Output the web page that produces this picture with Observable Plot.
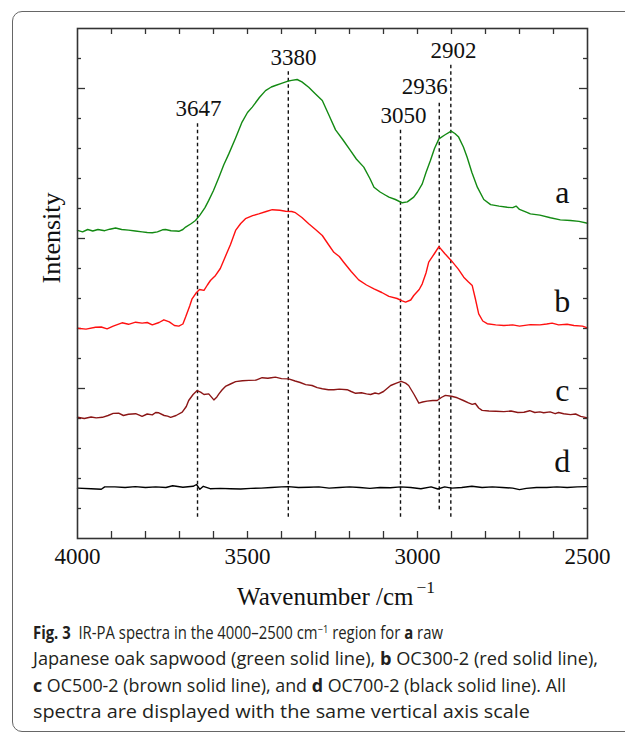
<!DOCTYPE html>
<html>
<head>
<meta charset="utf-8">
<script src="https://cdn.jsdelivr.net/npm/d3@7"></script>
<script src="https://cdn.jsdelivr.net/npm/@observablehq/plot@0.6"></script>
<style>
  html, body { margin: 0; padding: 0; background: #fff; width: 625px; height: 734px; overflow: hidden; }
  #box { position: absolute; left: 12px; top: 11px; width: 720px; height: 721px; border: 1px solid #666; border-radius: 10px; box-sizing: border-box; }
  #chart { position: absolute; left: 0; top: 0; }
  #caption { position: absolute; left: 33px; top: 619px; font-family: "Open Sans", "Noto Sans", sans-serif; font-size: 17.5px; line-height: 26.4px; color: #231f20; white-space: nowrap; }
  #caption .ln { display: inline-block; transform-origin: 0 50%; }
  #caption b { font-weight: 700; }
  #caption sup { font-size: 11px; line-height: 0; vertical-align: 6px; }
</style>
</head>
<body>
<div id="box"></div>
<div id="chart"></div>
<div id="caption">
<span class="ln"><b>Fig. 3</b>&nbsp; IR-PA spectra in the 4000–2500 cm<sup>−1</sup> region for <b>a</b> raw</span><br>
<span class="ln">Japanese oak sapwood (green solid line), <b>b</b> OC300-2 (red solid line),</span><br>
<span class="ln"><b>c</b> OC500-2 (brown solid line), and <b>d</b> OC700-2 (black solid line). All</span><br>
<span class="ln">spectra are displayed with the same vertical axis scale</span>
</div>
<script>
// ---- data (wavenumber cm^-1, intensity in arbitrary offset units) ----
const spectrumA = [
  [4000,10.27],[3985,10.22],[3970,10.3],[3955,10.25],[3940,10.3],[3920,10.26],[3905,10.31],[3888,10.35],
  [3870,10.3],[3850,10.28],[3830,10.25],[3810,10.22],[3795,10.2],[3780,10.19],[3765,10.22],[3750,10.29],
  [3741,10.3],[3725,10.26],[3710,10.25],[3702,10.24],[3690,10.3],[3682,10.38],[3665,10.5],[3653,10.6],
  [3640,10.78],[3625,11.03],[3614,11.27],[3600,11.6],[3584,12.04],[3570,12.45],[3555,12.82],[3535,13.35],
  [3516,13.88],[3500,14.2],[3486,14.38],[3465,14.7],[3447,14.93],[3430,15.05],[3418,15.1],[3400,15.17],
  [3383,15.24],[3370,15.27],[3354,15.3],[3340,15.22],[3320,15.04],[3300,14.82],[3280,14.6],[3260,14.1],
  [3241,13.62],[3220,13.3],[3197,12.93],[3180,12.65],[3158,12.38],[3140,12.0],[3128,11.71],[3110,11.55],
  [3095,11.45],[3084,11.38],[3065,11.3],[3045,11.19],[3030,11.22],[3011,11.38],[3000,11.55],[2986,11.82],
  [2975,12.2],[2962,12.6],[2950,13.0],[2937,13.32],[2920,13.45],[2901,13.58],[2890,13.5],[2879,13.38],
  [2865,13.05],[2854,12.71],[2840,12.2],[2824,11.71],[2805,11.3],[2785,11.13],[2760,11.08],[2736,11.04],
  [2720,11.03],[2710,11.08],[2700,10.97],[2680,10.88],[2668,10.82],[2640,10.78],[2609,10.69],[2580,10.62],
  [2550,10.6],[2525,10.57],[2500,10.51]
];
const spectrumB = [
  [4000,7.01],[3975,6.98],[3947,7.04],[3930,7.05],[3913,6.99],[3895,7.08],[3869,7.19],[3850,7.14],
  [3829,7.21],[3810,7.18],[3795,7.2],[3780,7.12],[3760,7.2],[3746,7.29],[3730,7.22],[3715,7.1],
  [3702,7.08],[3690,7.15],[3682,7.38],[3670,7.75],[3663,7.99],[3650,8.2],[3641,8.3],[3628,8.27],
  [3618,8.45],[3609,8.6],[3594,8.77],[3580,9.0],[3570,9.27],[3550,9.8],[3535,10.27],[3520,10.5],
  [3506,10.66],[3485,10.76],[3467,10.82],[3445,10.9],[3427,10.96],[3405,10.94],[3388,10.91],[3370,10.9],
  [3359,10.86],[3340,10.7],[3320,10.49],[3300,10.3],[3280,10.1],[3262,9.8],[3246,9.54],[3230,9.4],
  [3217,9.21],[3195,8.9],[3173,8.62],[3150,8.45],[3128,8.32],[3105,8.2],[3084,8.07],[3060,8.0],
  [3045,7.92],[3035,7.88],[3020,7.95],[3011,8.1],[2995,8.3],[2986,8.49],[2975,8.85],[2967,9.21],
  [2950,9.5],[2937,9.73],[2920,9.5],[2901,9.27],[2880,8.98],[2864,8.71],[2850,8.55],[2839,8.43],
  [2830,8.0],[2820,7.49],[2808,7.25],[2795,7.16],[2770,7.12],[2746,7.1],[2720,7.12],[2700,7.08],
  [2668,7.13],[2640,7.12],[2620,7.15],[2604,7.18],[2585,7.12],[2560,7.14],[2540,7.1],[2515,7.08],[2500,7.02]
];
const spectrumC = [
  [4000,4.04],[3980,4.0],[3960,4.05],[3945,4.02],[3927,4.04],[3910,4.1],[3895,4.17],[3879,4.18],
  [3865,4.1],[3850,4.14],[3829,4.16],[3820,4.12],[3810,4.07],[3795,4.15],[3780,4.12],[3770,4.2],
  [3761,4.19],[3745,4.1],[3735,4.08],[3726,4.04],[3710,4.1],[3692,4.21],[3680,4.4],[3673,4.6],
  [3660,4.8],[3648,4.93],[3638,4.88],[3628,4.8],[3614,4.82],[3599,4.62],[3590,4.72],[3584,4.82],
  [3575,4.95],[3565,5.07],[3550,5.15],[3535,5.23],[3515,5.26],[3496,5.27],[3475,5.28],[3457,5.36],
  [3440,5.34],[3430,5.36],[3418,5.38],[3400,5.33],[3379,5.32],[3360,5.25],[3345,5.2],[3329,5.13],
  [3310,5.1],[3295,5.03],[3280,4.99],[3262,4.96],[3246,4.96],[3230,4.98],[3207,4.96],[3195,4.9],
  [3182,4.84],[3165,4.86],[3150,4.82],[3138,4.8],[3125,4.85],[3114,4.82],[3100,4.9],[3079,5.1],
  [3062,5.18],[3048,5.24],[3035,5.18],[3026,5.1],[3010,4.8],[2996,4.51],[2985,4.55],[2972,4.58],
  [2955,4.6],[2942,4.6],[2930,4.7],[2918,4.77],[2900,4.74],[2883,4.69],[2865,4.6],[2850,4.52],
  [2839,4.47],[2830,4.5],[2820,4.35],[2810,4.27],[2790,4.25],[2770,4.24],[2746,4.23],[2725,4.25],
  [2705,4.2],[2687,4.21],[2670,4.26],[2655,4.2],[2640,4.22],[2629,4.19],[2610,4.22],[2595,4.16],
  [2585,4.2],[2570,4.16],[2550,4.13],[2535,4.15],[2520,4.07],[2500,4.02]
];
const spectrumD = [
  [4000,1.68],[3960,1.66],[3930,1.64],[3920,1.72],[3890,1.72],[3860,1.7],[3830,1.73],[3800,1.7],
  [3770,1.72],[3740,1.7],[3720,1.76],[3690,1.71],[3660,1.74],[3650,1.8],[3640,1.64],[3630,1.74],
  [3610,1.66],[3580,1.67],[3550,1.66],[3520,1.65],[3490,1.67],[3460,1.68],[3430,1.7],[3400,1.72],
  [3380,1.73],[3350,1.7],[3320,1.71],[3290,1.72],[3260,1.68],[3230,1.7],[3200,1.72],[3170,1.7],
  [3140,1.67],[3110,1.7],[3080,1.69],[3050,1.72],[3020,1.7],[2990,1.66],[2960,1.72],[2940,1.65],
  [2920,1.72],[2900,1.68],[2870,1.7],[2840,1.74],[2810,1.7],[2780,1.72],[2750,1.7],[2720,1.68],
  [2700,1.63],[2680,1.67],[2650,1.7],[2620,1.7],[2590,1.72],[2560,1.7],[2530,1.72],[2500,1.73]
];
const seriesNames = ["a", "b", "c", "d"];
const seriesColors = ["#138a13", "#ff1010", "#8b1616", "#000000"];
const seriesLabelPos = [[2574, 11.18], [2574, 7.54], [2574, 4.6], [2574, 2.21]];

const peakWn = [3647, 3380, 3050, 2936, 2902];
const peakTop = [13.88, 15.58, 13.62, 14.6, 15.8];
const peakBottom = [0.71, 0.71, 0.71, 0.96, 0.71];
const peakLabelWn = [3644, 3365, 3041, 2979, 2894];

const xTickLabels = [4000, 3500, 3000, 2500];
const xMinorTicks = d3.range(3900, 2550, -100);
const yMinorTicks = [1,2,3,4,6,7,8,9,11,12,13,14,16];
const yMajorTicks = [5, 10, 15];

// caption line widths (px) as measured in the figure
const captionLineWidths = [410, 565, 533, 497];

// ---- build tables ----
const spectra = [spectrumA, spectrumB, spectrumC, spectrumD];
const lines = spectra.flatMap((s, i) => s.map(([wn, v]) => ({wn, v, series: seriesNames[i]})));
const peaks = peakWn.map((wn, i) => ({wn, top: peakTop[i], bottom: peakBottom[i], labelWn: peakLabelWn[i]}));
const seriesLabels = seriesNames.map((name, i) => ({name, wn: seriesLabelPos[i][0], v: seriesLabelPos[i][1]}));

const frameW = 510, frameH = 510;
const axisColor = "#333";
const serif = "'Liberation Serif', 'Times New Roman', serif";
const txt = {fontFamily: serif, fontVariant: "normal", fill: "#111"};

const chart = Plot.plot({
  width: 625,
  height: 615,
  marginLeft: 77,
  marginRight: 38,
  marginTop: 28,
  marginBottom: 77,
  x: {domain: [4000, 2500], axis: null},
  y: {domain: [0, 17], axis: null},
  color: {domain: seriesNames, range: seriesColors},
  style: {fontFamily: serif, background: "transparent", color: "#111", overflow: "visible"},
  marks: [
    // ticks (inward)
    Plot.tickX(xMinorTicks, {x: d => d, insetTop: frameH - 7, stroke: axisColor, strokeWidth: 1.3}),
    Plot.tickX(xMinorTicks, {x: d => d, insetBottom: frameH - 6, stroke: axisColor, strokeWidth: 1.3}),
    Plot.tickY(yMinorTicks, {y: d => d, insetRight: frameW - 4, stroke: axisColor, strokeWidth: 1.3}),
    Plot.tickY(yMinorTicks, {y: d => d, insetLeft: frameW - 4, stroke: axisColor, strokeWidth: 1.3}),
    Plot.tickY(yMajorTicks, {y: d => d, insetRight: frameW - 8, stroke: axisColor, strokeWidth: 1.3}),
    Plot.tickY(yMajorTicks, {y: d => d, insetLeft: frameW - 8, stroke: axisColor, strokeWidth: 1.3}),
    // dashed peak rules
    Plot.ruleX(peaks, {x: "wn", y1: "bottom", y2: "top", stroke: "#111", strokeWidth: 1.4, strokeDasharray: "3.5,3"}),
    // spectra
    Plot.line(lines, {x: "wn", y: "v", z: "series", stroke: "series", strokeWidth: 1.4}),
    // frame
    Plot.frame({stroke: axisColor, strokeWidth: 1.6}),
    // peak labels
    Plot.text(peaks, {x: "labelWn", y: "top", text: d => String(d.wn), dy: -6.5, lineAnchor: "bottom", fontSize: 23, ...txt}),
    // series labels
    Plot.text(seriesLabels, {x: "wn", y: "v", text: "name", lineAnchor: "bottom", fontSize: 32, ...txt}),
    // x tick labels
    Plot.text(xTickLabels, {x: d => d, frameAnchor: "bottom", dy: 25, lineAnchor: "bottom", text: d => String(d), fontSize: 23, ...txt}),
    // axis titles
    Plot.text(["Intensity"], {frameAnchor: "left", rotate: -90, dx: -26, fontSize: 26, ...txt}),
    Plot.text(["Wavenumber /cm"], {frameAnchor: "bottom", dx: 81, dy: 66, textAnchor: "end", lineAnchor: "bottom", fontSize: 25, ...txt}),
    Plot.text(["−1"], {frameAnchor: "bottom", dx: 84, dy: 54, textAnchor: "start", lineAnchor: "bottom", fontSize: 17.5, ...txt})
  ]
});
document.getElementById("chart").appendChild(chart);

// fit each caption line horizontally to its measured width
document.querySelectorAll("#caption .ln").forEach((el, i) => {
  const w = el.getBoundingClientRect().width;
  el.style.transform = `scaleX(${(captionLineWidths[i] / w).toFixed(4)})`;
});
</script>
</body>
</html>
